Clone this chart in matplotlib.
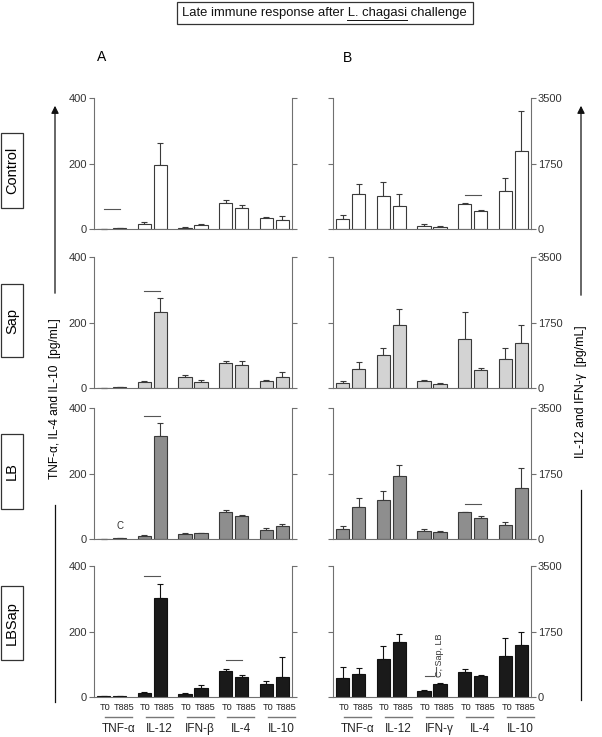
import matplotlib
matplotlib.use('Agg')
import matplotlib.pyplot as plt
import numpy as np
from matplotlib.patches import Rectangle
from matplotlib.lines import Line2D
from matplotlib.transforms import blended_transform_factory

plt.rcParams['font.family'] = ['Liberation Sans', 'DejaVu Sans']

# ---------------- data ----------------
groups = ['Control', 'Sap', 'LB', 'LBSap']
cytokines_A = ['TNF-α', 'IL-12', 'IFN-β', 'IL-4', 'IL-10']
cytokines_B = ['TNF-α', 'IL-12', 'IFN-γ', 'IL-4', 'IL-10']
timepoints = ['T0', 'T885']

# bar order: TNF T0, TNF T885, IL-12 T0, IL-12 T885, IFN T0, IFN T885, IL-4 T0, IL-4 T885, IL-10 T0, IL-10 T885
A_control = [1, 2, 15, 195, 4, 11, 79, 65, 33, 26]
A_control_err = [0.5, 0.5, 6, 68, 3, 3, 10, 7, 4, 14]
A_sap = [1, 2, 18, 232, 33, 19, 75, 70, 22, 33]
A_sap_err = [0.5, 0.5, 4, 43, 7, 5, 6, 11, 3, 15]
A_lb = [1, 2, 9, 316, 14, 17, 81, 71, 27, 39]
A_lb_err = [0.5, 0.5, 2, 38, 3, 1.5, 7, 3, 6, 8]
A_lbsap = [2, 2, 11, 302, 10, 26, 80, 62, 40, 62]
A_lbsap_err = [0.5, 0.5, 3, 43, 3, 12, 4, 6, 8, 60]

B_control = [265, 937, 875, 619, 88, 62, 663, 469, 1017, 2095]
B_control_err = [106, 274, 372, 309, 36, 18, 44, 35, 345, 1070]
B_sap = [130, 500, 884, 1696, 180, 110, 1312, 491, 777, 1196]
B_sap_err = [57, 196, 178, 420, 43, 20, 715, 45, 294, 500]
B_lb = [266, 844, 1048, 1678, 213, 178, 710, 560, 382, 1359]
B_lb_err = [71, 239, 222, 311, 45, 35, 18, 44, 62, 533]
B_lbsap = [515, 604, 1021, 1465, 160, 355, 666, 551, 1092, 1377]
B_lbsap_err = [275, 160, 347, 214, 35, 18, 71, 44, 471, 364]

A_means = [A_control, A_sap, A_lb, A_lbsap]
A_errs = [A_control_err, A_sap_err, A_lb_err, A_lbsap_err]
B_means = [B_control, B_sap, B_lb, B_lbsap]
B_errs = [B_control_err, B_sap_err, B_lb_err, B_lbsap_err]

# significance lines: (row, first bar, second bar, level)
sig_A = [(0, 0, 1, 62), (1, 2, 3, 297), (2, 2, 3, 377), (3, 2, 3, 370), (3, 6, 7, 112)]
sig_B = [(0, 6, 7, 902), (2, 6, 7, 941)]

A_ticks = [0, 200, 400]
B_ticks = [0, 1750, 3500]

bar_colors = ['white', '#d3d3d3', '#8e8e8e', '#1a1a1a']
edge_colors = ['#3a3a3a', '#3a3a3a', '#3a3a3a', '#111111']
axis_col = '#707070'

# ---------------- figure ----------------
W, H = 602, 737
fig = plt.figure(figsize=(W / 100, H / 100), dpi=100)

# overlay axes in pixel coordinates for decorations
ov = fig.add_axes([0, 0, 1, 1], zorder=-1)
ov.set_xlim(0, W)
ov.set_ylim(H, 0)
ov.axis('off')

pitch = 2.55
xpos = np.array([g * pitch + j for g in range(5) for j in range(2)])

row_bottom_px = [229, 388, 539, 697]
ax_h = 131
ax_w = 198
left_A, left_B = 94, 333


def style(ax, ymax, ticks, is_A):
    ax.set_xlim(-0.6, xpos[-1] + 0.6)
    ax.set_ylim(0, ymax)
    ax.set_xticks([])
    ax.set_yticks(ticks)
    ax.spines['top'].set_visible(False)
    for s in ['left', 'right', 'bottom']:
        ax.spines[s].set_color(axis_col)
        ax.spines[s].set_linewidth(0.8)
    ax.tick_params(axis='y', direction='out', length=3.5, width=0.8, color=axis_col,
                   labelsize=8, labelcolor='#333333', pad=1.5,
                   left=True, right=True, labelleft=is_A, labelright=not is_A)
    ax.patch.set_alpha(0)


axes_A, axes_B = [], []
for i in range(4):
    b = 1 - row_bottom_px[i] / H
    axA = fig.add_axes([left_A / W, b, ax_w / W, ax_h / H])
    axB = fig.add_axes([left_B / W, b, ax_w / W, ax_h / H])
    for ax, means, errs, ymax, ticks, isA in [
        (axA, A_means[i], A_errs[i], 400, A_ticks, True),
        (axB, B_means[i], B_errs[i], 3500, B_ticks, False)]:
        style(ax, ymax, ticks, isA)
        ax.errorbar(xpos, means, yerr=[np.zeros(len(means)), errs], fmt='none',
                    ecolor=edge_colors[i], elinewidth=0.8, capsize=2.5, capthick=0.8,
                    zorder=1, clip_on=False)
        ax.bar(xpos, means, width=0.82, color=bar_colors[i], edgecolor=edge_colors[i],
               linewidth=0.8, zorder=2)
    axes_A.append(axA)
    axes_B.append(axB)

for r, a, bb, y in sig_A:
    axes_A[r].plot([xpos[a], xpos[bb]], [y, y], color='#555555', lw=0.8)
for r, a, bb, y in sig_B:
    axes_B[r].plot([xpos[a], xpos[bb]], [y, y], color='#555555', lw=0.8)

# "C" mark in LB row panel A
axes_A[2].text(xpos[1], 25, 'C', ha='center', va='bottom', fontsize=7, color='#333333')

# "C, Sap, LB" mark in LBSap row panel B
axb = axes_B[3]
axb.plot([xpos[4] + 0.04, xpos[4] + 0.62], [568, 568], color='#555555', lw=0.8)
axb.plot([xpos[4] + 0.72, xpos[4] + 0.72], [560, 790], color='#555555', lw=0.8)
axb.text(xpos[4] + 0.98, 1120, 'C, Sap, LB', rotation=90, ha='center', va='center',
         fontsize=6.5, color='#333333')

# bottom labels
label_shift = [0.08, 0.26]
for ax, names in [(axes_A[3], cytokines_A), (axes_B[3], cytokines_B)]:
    tr = blended_transform_factory(ax.transData, ax.transAxes)
    for k, xx in enumerate(xpos):
        ax.text(xx + label_shift[k % 2], -0.078, timepoints[k % 2], transform=tr,
                ha='center', va='center', fontsize=6.6, color='#222222')
    for g in range(5):
        c = xpos[2 * g] + 0.5 + 0.45
        ax.add_line(Line2D([c - 0.85, c + 0.85], [-0.155, -0.155], transform=tr,
                           color='#777777', lw=1.0, clip_on=False))
        ax.text(c, -0.245, names[g], transform=tr, ha='center', va='center',
                fontsize=8.5, color='#222222')

# panel letters
ov.text(102, 57, 'A', ha='center', va='center', fontsize=10)
ov.text(347, 58, 'B', ha='center', va='center', fontsize=10)

# title box with underlined species name
ov.add_patch(Rectangle((177, 2), 296, 22, fill=False, edgecolor='#333333', lw=0.9))
full = 'Late immune response after L. chagasi challenge'
pre = 'Late immune response after L. chagasi'
und = 'L. chagasi'
title_fs = 9.4
fig.canvas.draw()
rend = fig.canvas.get_renderer()


def width_px(s):
    t = ov.text(0, 0, s, fontsize=title_fs)
    w = t.get_window_extent(renderer=rend).width
    t.remove()
    return w


wf, wp, wu = width_px(full), width_px(pre), width_px(und)
x0 = 324 - wf / 2
ov.text(x0, 13, full, ha='left', va='center', fontsize=title_fs, color='#111111')
ov.plot([x0 + wp - wu, x0 + wp], [19.5, 19.5], color='#111111', lw=0.7)

# row label boxes
row_box_y = [(133, 208), (284, 357), (434, 509), (586, 660)]
for (y0, y1), name in zip(row_box_y, groups):
    ov.add_patch(Rectangle((1, y0), 22, y1 - y0, fill=False, edgecolor='#333333', lw=0.9))
    ov.text(12, (y0 + y1) / 2, name, rotation=90, ha='center', va='center', fontsize=10.5)

# left axis label with arrow
ov.annotate('', xy=(55, 103), xytext=(55, 296),
            arrowprops=dict(arrowstyle='-|>', color='#111111', lw=0.9, mutation_scale=11))
ov.plot([55, 55], [505, 702], color='#111111', lw=0.9)
ov.text(55, 399, 'TNF-α, IL-4 and IL-10  [pg/mL]', rotation=90, ha='center', va='center',
        fontsize=8.6)

# right axis label with arrow
ov.annotate('', xy=(581, 103), xytext=(581, 298),
            arrowprops=dict(arrowstyle='-|>', color='#111111', lw=0.9, mutation_scale=11))
ov.plot([581, 581], [490, 700], color='#111111', lw=0.9)
ov.text(581, 392, 'IL-12 and IFN-γ  [pg/mL]', rotation=90, ha='center', va='center',
        fontsize=8.8)

fig.savefig('out.png', dpi=100)
